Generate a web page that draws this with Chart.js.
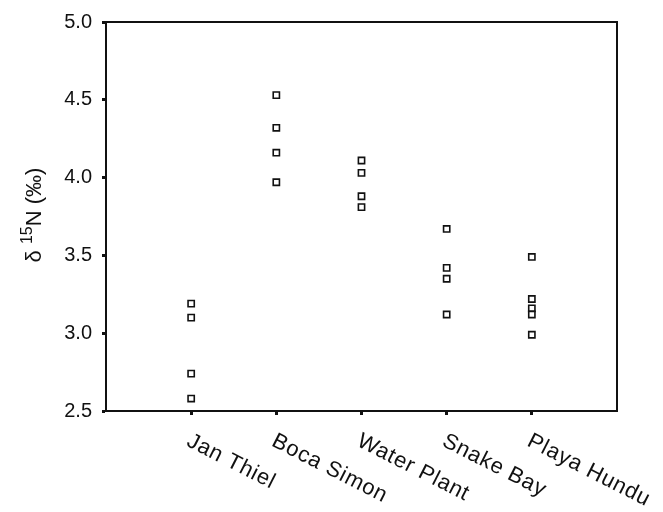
<!DOCTYPE html>
<html>
<head>
<meta charset="utf-8">
<script src="https://cdn.jsdelivr.net/npm/chart.js@4/dist/chart.umd.min.js"></script>
<style>
  html, body { margin: 0; padding: 0; background: #fff; }
  #wrap { width: 663px; height: 512px; }
</style>
</head>
<body>
<div id="wrap"><canvas id="chart" width="663" height="512"></canvas></div>
<script>
// sites along the x axis
const sites = ['Jan Thiel', 'Boca Simon', 'Water Plant', 'Snake Bay', 'Playa Hundu'];

// d15N values per site
const janThiel = [3.19, 3.10, 2.74, 2.58];
const bocaSimon = [4.53, 4.32, 4.16, 3.97];
const waterPlant = [4.11, 4.03, 3.88, 3.81];
const snakeBay = [3.67, 3.42, 3.35, 3.12];
const playaHundu = [3.49, 3.22, 3.16, 3.12, 2.99];

const siteValues = [janThiel, bocaSimon, waterPlant, snakeBay, playaHundu];
const yTicks = [2.5, 3.0, 3.5, 4.0, 4.5, 5.0];

const FONT = '"Liberation Sans", Arial, sans-serif';

// each site sits at x = 1..5 on a 0..6 axis
const datasets = siteValues.map((vals, i) => ({
  label: sites[i],
  data: vals.map(v => ({ x: i + 1, y: v })),
  pointStyle: 'rect',
  pointRadius: 4.4,
  pointBorderWidth: 1.6,
  pointBorderColor: '#111',
  pointBackgroundColor: '#fff'
}));

// box around the plot + rotated site labels + y title with superscript
const decorations = {
  id: 'decorations',
  afterDraw(chart) {
    const ctx = chart.ctx;
    const a = chart.chartArea;
    ctx.save();
    ctx.strokeStyle = '#111';
    ctx.lineWidth = 2;
    ctx.strokeRect(a.left, a.top, a.right - a.left, a.bottom - a.top);

    // x labels, rotated clockwise and starting at the tick
    const xs = chart.scales.x;
    ctx.fillStyle = '#111';
    ctx.font = '22px ' + FONT;
    ctx.letterSpacing = '0.8px';
    ctx.textAlign = 'left';
    ctx.textBaseline = 'top';
    sites.forEach((name, i) => {
      const px = xs.getPixelForValue(i + 1);
      ctx.save();
      ctx.translate(px + 2, a.bottom + 19);
      ctx.rotate(27 * Math.PI / 180);
      ctx.fillText(name, 0, 0);
      ctx.restore();
    });
    ctx.letterSpacing = '0px';

    // y title: δ 15N (‰)
    ctx.save();
    ctx.translate(41, 215);
    ctx.rotate(-Math.PI / 2);
    ctx.textBaseline = 'alphabetic';
    const big = '22px ' + FONT;
    const small = '16px ' + FONT;
    ctx.font = big;
    const p1 = 'δ ', p3 = 'N (‰)';
    const w1 = ctx.measureText(p1).width;
    const w3 = ctx.measureText(p3).width;
    ctx.font = small;
    const w2 = ctx.measureText('15').width;
    let x = -(w1 + w2 + w3) / 2;
    ctx.font = big;
    ctx.fillText(p1, x, 0);
    x += w1;
    ctx.font = small;
    ctx.fillText('15', x, -9);
    x += w2;
    ctx.font = big;
    ctx.fillText(p3, x, 0);
    ctx.restore();

    ctx.restore();
  }
};

new Chart(document.getElementById('chart'), {
  type: 'scatter',
  data: { datasets },
  plugins: [decorations],
  options: {
    responsive: false,
    animation: false,
    layout: { padding: { top: 20, right: 46, left: 0, bottom: 0 } },
    plugins: {
      legend: { display: false },
      tooltip: { enabled: false }
    },
    scales: {
      x: {
        type: 'linear',
        min: 0,
        max: 6,
        afterBuildTicks: s => { s.ticks = sites.map((_, i) => ({ value: i + 1 })); },
        afterFit: s => { s.height = 101; },
        ticks: { display: false },
        grid: { drawOnChartArea: false, tickLength: 4, tickWidth: 3, tickColor: '#111' },
        border: { display: true, color: '#111', width: 2 }
      },
      y: {
        min: 2.5,
        max: 5.0,
        afterBuildTicks: s => { s.ticks = yTicks.map(v => ({ value: v })); },
        afterFit: s => { s.width = 106; },
        ticks: {
          color: '#111',
          padding: 10,
          font: { family: FONT, size: 20 },
          callback: v => v.toFixed(1)
        },
        grid: { drawOnChartArea: false, tickLength: 4, tickWidth: 3, tickColor: '#111' },
        border: { display: true, color: '#111', width: 2 }
      }
    }
  }
});
</script>
</body>
</html>
